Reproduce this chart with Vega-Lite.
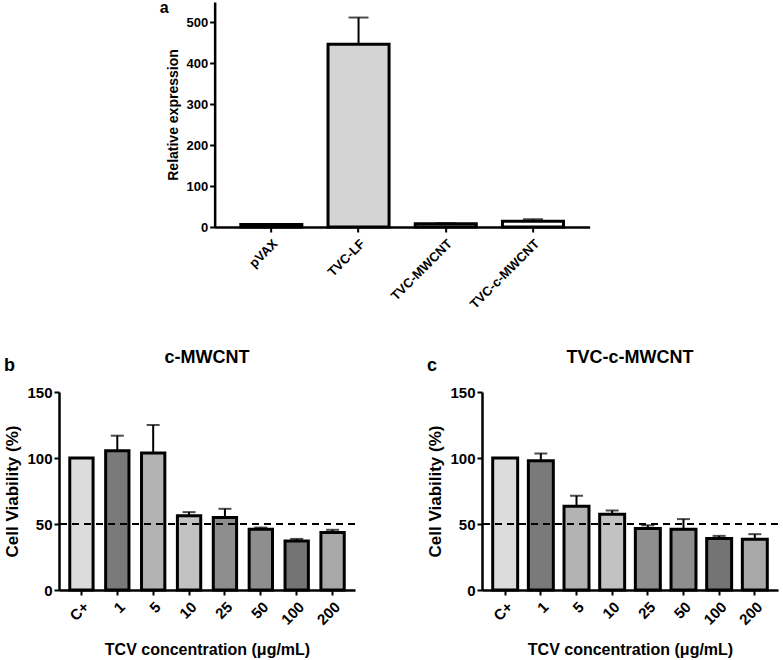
{
  "$schema": "https://vega.github.io/schema/vega-lite/v6.json",
  "padding": {"left": 3, "top": 0, "right": 3, "bottom": 3},
  "background": "white",
  "datasets": {
    "expr": [
      {"group": "pVAX", "value": 6, "err": 6},
      {"group": "TVC-LF", "value": 447, "err": 512},
      {"group": "TVC-MWCNT", "value": 8, "err": 9},
      {"group": "TVC-c-MWCNT", "value": 14, "err": 19}
    ],
    "cm": [
      {"conc": "C+", "value": 100, "err": 100},
      {"conc": "1", "value": 105.5, "err": 116.9},
      {"conc": "5", "value": 103.7, "err": 125},
      {"conc": "10", "value": 56.3, "err": 59},
      {"conc": "25", "value": 54.9, "err": 61.5},
      {"conc": "50", "value": 46, "err": 47.3},
      {"conc": "100", "value": 37.2, "err": 38.7},
      {"conc": "200", "value": 43.5, "err": 45.6}
    ],
    "tcm": [
      {"conc": "C+", "value": 100, "err": 100},
      {"conc": "1", "value": 97.9, "err": 103.5},
      {"conc": "5", "value": 63.5, "err": 71.4},
      {"conc": "10", "value": 57.4, "err": 60.2},
      {"conc": "25", "value": 46.5, "err": 49},
      {"conc": "50", "value": 46, "err": 53.7},
      {"conc": "100", "value": 39, "err": 41},
      {"conc": "200", "value": 38.5, "err": 42.3}
    ],
    "cut": [{"level": 50}]
  },
  "config": {
    "font": "Liberation Sans",
    "view": {"stroke": null},
    "axis": {
      "domainColor": "black", "domainWidth": 2.5, "tickColor": "black", "tickWidth": 2, "tickSize": 5,
      "labelColor": "black", "labelFontWeight": "bold", "titleColor": "black", "titleFontWeight": "bold",
      "grid": false, "labelFont": "Liberation Sans", "titleFont": "Liberation Sans"
    },
    "title": {"font": "Liberation Sans", "fontWeight": "bold", "color": "black"}
  },
  "resolve": {"scale": {"fill": "independent"}},
  "center": true,
  "spacing": 37,
  "vconcat": [
    {
      "title": {"text": "a", "anchor": "start", "frame": "group", "dx": -55, "offset": -14, "fontSize": 16},
      "width": 375,
      "height": 225,
      "data": {"name": "expr"},
      "encoding": {
        "x": {"field": "group", "type": "nominal", "sort": null,
              "scale": {"paddingInner": 0.3, "paddingOuter": 0.3},
              "axis": {"title": null, "labelAngle": -45, "labelFontSize": 13, "labelPadding": 5}}
      },
      "resolve": {"axis": {"y": "independent"}},
      "layer": [
        {"mark": {"type": "rule", "color": "black", "strokeWidth": 2},
         "encoding": {"y": {"field": "value", "type": "quantitative", "axis": null}, "y2": {"field": "err"}}},
        {"mark": {"type": "tick", "color": "black", "thickness": 2, "size": 20},
         "encoding": {"y": {"field": "err", "type": "quantitative",
                            "axis": {"orient": "right", "title": null, "domain": false, "ticks": false, "labelColor": "white", "labelPadding": 12, "values": [500], "labelFontSize": 13}}}},
        {"mark": {"type": "bar", "stroke": "black", "strokeWidth": 3},
         "encoding": {
           "y": {"field": "value", "type": "quantitative",
                 "scale": {"domain": [0, 550], "nice": false},
                 "axis": {"title": "Relative expression", "values": [0, 100, 200, 300, 400, 500], "labelFontSize": 13, "titleFontSize": 14, "titlePadding": 5}},
           "fill": {"field": "group", "type": "nominal", "legend": null,
                    "scale": {"domain": ["pVAX", "TVC-LF", "TVC-MWCNT", "TVC-c-MWCNT"], "range": ["#ffffff", "#d4d4d4", "#d8d8d8", "#ffffff"]}}
         }}
      ]
    },
    {
      "spacing": 70,
      "resolve": {"scale": {"fill": "independent"}},
      "hconcat": [
        {
          "title": {"text": "b", "anchor": "start", "offset": -26, "fontSize": 18},
          "vconcat": [
            {
              "title": {"text": "c-MWCNT", "fontSize": 18, "offset": 18},
              "width": 296,
              "height": 198,
              "layer": [
                {
                  "data": {"name": "cm"},
                  "encoding": {
                    "x": {"field": "conc", "type": "nominal", "sort": null,
                          "scale": {"domain": ["C+", "1", "5", "10", "25", "50", "100", "200"], "paddingInner": 0.35, "paddingOuter": 0.3},
                          "axis": {"title": "TCV concentration (μg/mL)", "labelAngle": -45, "labelFontSize": 15, "titleFontSize": 16, "titlePadding": 14, "labelPadding": 4}}
                  },
                  "layer": [
                    {"mark": {"type": "rule", "color": "black", "strokeWidth": 2},
                     "encoding": {"y": {"field": "value", "type": "quantitative"}, "y2": {"field": "err"}}},
                    {"mark": {"type": "tick", "color": "black", "thickness": 2, "size": 13},
                     "encoding": {"y": {"field": "err", "type": "quantitative"}}},
                    {"mark": {"type": "bar", "stroke": "black", "strokeWidth": 3},
                     "encoding": {
                       "y": {"field": "value", "type": "quantitative",
                             "scale": {"domain": [0, 150], "nice": false},
                             "axis": {"title": "Cell Viability (%)", "values": [0, 50, 100, 150], "labelFontSize": 15, "titleFontSize": 17, "titlePadding": 5}},
                       "fill": {"field": "conc", "type": "nominal", "legend": null,
                                "scale": {"domain": ["C+", "1", "5", "10", "25", "50", "100", "200"],
                                          "range": ["#dcdcdc", "#7a7a7a", "#b3b3b3", "#c2c2c2", "#8e8e8e", "#8e8e8e", "#747474", "#a8a8a8"]}}
                     }}
                  ]
                },
                {
                  "data": {"name": "cut"},
                  "mark": {"type": "rule", "color": "black", "strokeWidth": 2, "strokeDash": [7, 5]},
                  "encoding": {"y": {"field": "level", "type": "quantitative"}}
                }
              ]
            }
          ]
        },
        {
          "title": {"text": "c", "anchor": "start", "offset": -26, "fontSize": 18},
          "vconcat": [
            {
              "title": {"text": "TVC-c-MWCNT", "fontSize": 18, "offset": 18},
              "width": 296,
              "height": 198,
              "layer": [
                {
                  "data": {"name": "tcm"},
                  "encoding": {
                    "x": {"field": "conc", "type": "nominal", "sort": null,
                          "scale": {"domain": ["C+", "1", "5", "10", "25", "50", "100", "200"], "paddingInner": 0.3, "paddingOuter": 0.3},
                          "axis": {"title": "TCV concentration (μg/mL)", "labelAngle": -45, "labelFontSize": 15, "titleFontSize": 16, "titlePadding": 14, "labelPadding": 4}}
                  },
                  "layer": [
                    {"mark": {"type": "rule", "color": "black", "strokeWidth": 2},
                     "encoding": {"y": {"field": "value", "type": "quantitative"}, "y2": {"field": "err"}}},
                    {"mark": {"type": "tick", "color": "black", "thickness": 2, "size": 13},
                     "encoding": {"y": {"field": "err", "type": "quantitative"}}},
                    {"mark": {"type": "bar", "stroke": "black", "strokeWidth": 3},
                     "encoding": {
                       "y": {"field": "value", "type": "quantitative",
                             "scale": {"domain": [0, 150], "nice": false},
                             "axis": {"title": "Cell Viability (%)", "values": [0, 50, 100, 150], "labelFontSize": 15, "titleFontSize": 17, "titlePadding": 5}},
                       "fill": {"field": "conc", "type": "nominal", "legend": null,
                                "scale": {"domain": ["C+", "1", "5", "10", "25", "50", "100", "200"],
                                          "range": ["#dcdcdc", "#7a7a7a", "#b3b3b3", "#c2c2c2", "#8e8e8e", "#8e8e8e", "#747474", "#a8a8a8"]}}
                     }}
                  ]
                },
                {
                  "data": {"name": "cut"},
                  "mark": {"type": "rule", "color": "black", "strokeWidth": 2, "strokeDash": [7, 5]},
                  "encoding": {"y": {"field": "level", "type": "quantitative"}}
                }
              ]
            }
          ]
        }
      ]
    }
  ]
}
